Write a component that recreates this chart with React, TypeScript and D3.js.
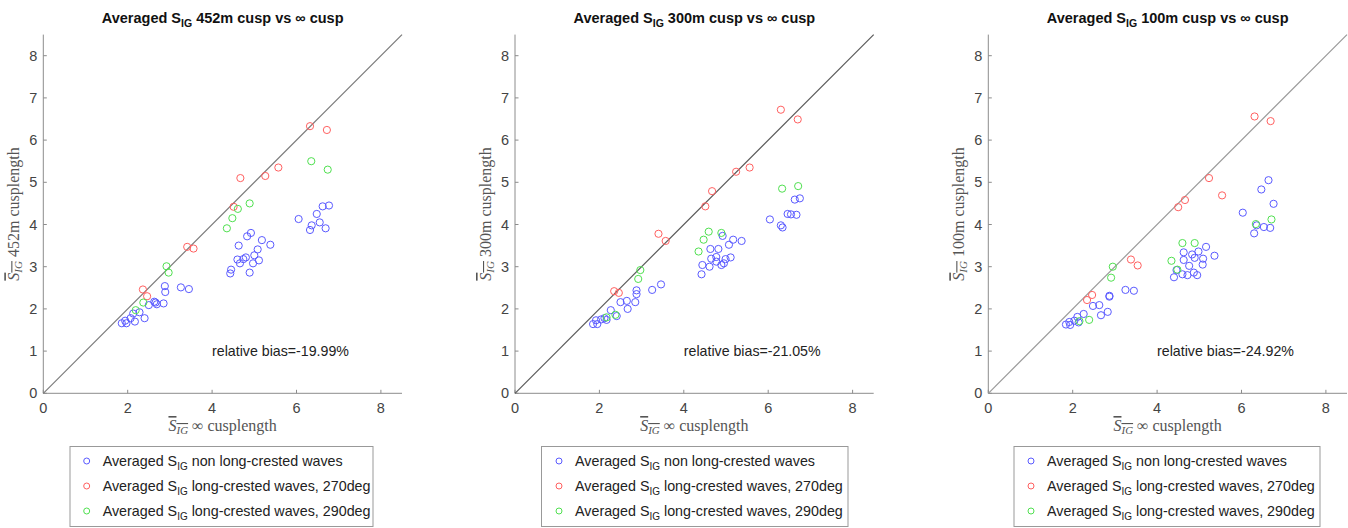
import React from "react";
import * as d3 from "d3";

type Pt = [number, number];

// x: averaged S_IG with infinite cusp length, y: averaged S_IG for a finite cusp length
const blue452: Pt[] = [
  [6.77, 4.45], [6.62, 4.43], [6.48, 4.25], [6.55, 4.05], [6.36, 3.98], [6.32, 3.87], [6.69, 3.91], [6.05, 4.13],
  [4.92, 3.8], [4.83, 3.72], [5.18, 3.63], [5.38, 3.52], [4.63, 3.5], [5.08, 3.41], [5.0, 3.27], [4.8, 3.22],
  [4.74, 3.18], [4.6, 3.17], [4.66, 3.08], [5.11, 3.15], [4.97, 3.08], [4.45, 2.93], [4.43, 2.84], [4.89, 2.86],
  [3.45, 2.47], [3.26, 2.51], [2.88, 2.54], [2.89, 2.4], [2.85, 2.13], [2.66, 2.15], [2.63, 2.17], [2.69, 2.11],
  [2.5, 2.09], [2.4, 1.78], [2.28, 1.92], [2.13, 1.89], [2.07, 1.78], [2.17, 1.7], [1.94, 1.72], [1.97, 1.66],
  [1.86, 1.66],
];
const red452: Pt[] = [
  [6.32, 6.33], [6.72, 6.24], [4.67, 5.1], [5.26, 5.15], [5.57, 5.35], [4.51, 4.42], [3.41, 3.47], [3.56, 3.43],
  [2.36, 2.46], [2.46, 2.3],
];
const green452: Pt[] = [
  [6.35, 5.5], [6.74, 5.3], [4.89, 4.5], [4.61, 4.37], [4.48, 4.15], [4.35, 3.91], [2.92, 3.01], [2.97, 2.86],
  [2.37, 2.15], [2.19, 1.97],
];

const blue300: Pt[] = [
  [6.75, 4.62], [6.63, 4.59], [6.46, 4.25], [6.54, 4.24], [6.67, 4.23], [6.04, 4.12], [6.3, 3.98], [6.34, 3.93],
  [5.37, 3.61], [5.17, 3.64], [5.07, 3.52], [4.92, 3.73], [4.82, 3.42], [4.63, 3.42], [4.77, 3.23], [4.65, 3.19],
  [4.99, 3.18], [5.11, 3.22], [4.95, 3.08], [4.89, 3.04], [4.77, 3.12], [4.61, 3.0], [4.44, 3.04], [4.42, 2.82],
  [3.46, 2.58], [3.25, 2.45], [2.88, 2.44], [2.88, 2.35], [2.85, 2.16], [2.65, 2.19], [2.67, 2.0], [2.5, 2.16],
  [2.41, 1.83], [2.27, 1.97], [2.17, 1.74], [2.12, 1.78], [2.04, 1.75], [1.95, 1.64], [1.92, 1.73], [1.85, 1.64],
];
const red300: Pt[] = [
  [6.3, 6.72], [6.7, 6.49], [5.24, 5.25], [5.56, 5.35], [4.67, 4.79], [4.51, 4.43], [3.4, 3.78], [3.57, 3.61],
  [2.35, 2.42], [2.46, 2.38],
];
const green300: Pt[] = [
  [6.33, 4.85], [6.71, 4.91], [4.89, 3.8], [4.59, 3.83], [4.47, 3.64], [4.35, 3.36], [2.97, 2.92], [2.92, 2.71],
  [2.38, 1.86], [2.17, 1.8],
];

const blue100: Pt[] = [
  [6.64, 5.05], [6.47, 4.83], [6.76, 4.49], [6.03, 4.28], [6.3, 3.79], [6.36, 3.98], [6.53, 3.94], [6.68, 3.92],
  [5.16, 3.47], [5.36, 3.26], [5.09, 3.19], [5.08, 3.05], [4.98, 3.36], [4.83, 3.29], [4.89, 3.21], [4.63, 3.34],
  [4.63, 3.16], [4.76, 3.02], [4.46, 2.92], [4.4, 2.75], [4.6, 2.82], [4.72, 2.8], [4.87, 2.86], [4.95, 2.8],
  [3.45, 2.43], [3.25, 2.45], [2.87, 2.31], [2.87, 2.29], [2.63, 2.09], [2.48, 2.07], [2.67, 1.85], [2.83, 1.93],
  [2.26, 1.88], [2.11, 1.81], [2.14, 1.68], [2.04, 1.72], [1.92, 1.69], [1.84, 1.63], [1.94, 1.62],
];
const red100: Pt[] = [
  [6.31, 6.56], [6.69, 6.45], [5.23, 5.1], [5.54, 4.69], [4.66, 4.58], [4.5, 4.41], [3.38, 3.17], [3.54, 3.03],
  [2.34, 2.21], [2.46, 2.33],
];
const green100: Pt[] = [
  [6.34, 4.01], [6.71, 4.12], [4.89, 3.56], [4.6, 3.56], [4.34, 3.14], [4.48, 2.93], [2.95, 3.0], [2.91, 2.74],
  [2.39, 1.74], [2.16, 1.71],
];

const cuspLengths = ["452m", "300m", "100m"];
const relativeBias = ["-19.99%", "-21.05%", "-24.92%"];
const ticks = [0, 2, 4, 6, 8];
const yTicks = [0, 1, 2, 3, 4, 5, 6, 7, 8];
const legendLabels = [" non long-crested waves", " long-crested waves, 270deg", " long-crested waves, 290deg"];

const seriesColors = ["#5a5aff", "#ff6060", "#50e050"];
const diagColors = ["#7a7a7a", "#5a5a5a", "#9a9a9a"];

const panels = [
  { left: 43.3, legendX: 70, legendW: 303, mk: 86.7, tx: 102.7, series: [blue452, red452, green452] },
  { left: 515, legendX: 541.5, legendW: 306.5, mk: 559, tx: 575, series: [blue300, red300, green300] },
  { left: 988.3, legendX: 1014, legendW: 306, mk: 1031, tx: 1047, series: [blue100, red100, green100] },
];

const SANS = "'Liberation Sans', Arial, sans-serif";
const SERIF = "'Liberation Serif', 'Times New Roman', serif";
const unit = 42.2;
const top = 34.6;
const bottom = 393.3;

function Panel({ idx }: { idx: number }) {
  const p = panels[idx];
  const x = d3.scaleLinear().domain([0, 8.5]).range([p.left, p.left + 8.5 * unit]);
  const y = d3.scaleLinear().domain([0, 8.5]).range([bottom, top]);
  const diag = d3.line<number>().x((v) => x(v)).y((v) => y(v));
  const cx = (x(0) + x(8.5)) / 2;
  const cy = (y(0) + y(8.5)) / 2;
  const axisColor = "#8c8c8c";
  const labelColor = "#444";

  return (
    <g>
      {/* title */}
      <text x={cx} y={23} textAnchor="middle" fontFamily={SANS} fontWeight="bold" fontSize={14.5} fill="#111">
        Averaged S<tspan dy={4} fontSize={10.5}>IG</tspan>
        <tspan dy={-4}>{` ${cuspLengths[idx]} cusp vs \u221E cusp`}</tspan>
      </text>

      {/* axes */}
      <line x1={x(0)} x2={x(0)} y1={y(0)} y2={y(8.5)} stroke={axisColor} strokeWidth={1} />
      <line x1={x(0)} x2={x(8.5)} y1={y(0)} y2={y(0)} stroke={axisColor} strokeWidth={1} />
      {ticks.map((t) => (
        <g key={"xt" + t}>
          <line x1={x(t)} x2={x(t)} y1={y(0)} y2={y(0) - 3.5} stroke={axisColor} />
          <text x={x(t)} y={y(0) + 20} textAnchor="middle" fontFamily={SANS} fontSize={14.5} fill={labelColor}>
            {t}
          </text>
        </g>
      ))}
      {yTicks.map((t) => (
        <g key={"yt" + t}>
          <line x1={x(0)} x2={x(0) + 3.5} y1={y(t)} y2={y(t)} stroke={axisColor} />
          <text x={x(0) - 6} y={y(t) + 5} textAnchor="end" fontFamily={SANS} fontSize={14.5} fill={labelColor}>
            {t}
          </text>
        </g>
      ))}

      {/* axis labels */}
      <text x={cx} y={431} textAnchor="middle" fontFamily={SERIF} fontSize={16} fill="#555">
        <tspan textDecoration="overline" fontStyle="italic">S<tspan dy={3} fontSize={11}>IG</tspan></tspan>
        <tspan dy={-3}>{" \u221E cusplength"}</tspan>
      </text>
      <text
        transform={`translate(${x(0) - 24},${cy}) rotate(-90)`}
        textAnchor="middle"
        fontFamily={SERIF}
        fontSize={16}
        fill="#555"
      >
        <tspan textDecoration="overline" fontStyle="italic">S<tspan dy={3} fontSize={11}>IG</tspan></tspan>
        <tspan dy={-3}>{` ${cuspLengths[idx]} cusplength`}</tspan>
      </text>

      {/* 1:1 line */}
      <path d={diag([0, 8.5]) || ""} stroke={diagColors[idx]} strokeWidth={1.2} fill="none" />

      {/* scatter */}
      {p.series.map((s, si) =>
        s.map((d, i) => (
          <circle
            key={`${si}-${i}`}
            cx={x(d[0])}
            cy={y(d[1])}
            r={3.6}
            fill="none"
            stroke={seriesColors[si]}
            strokeWidth={1}
          />
        ))
      )}

      <text x={x(4.0)} y={y(1.0) + 5} fontFamily={SANS} fontSize={14.2} fill="#222">
        {`relative bias=${relativeBias[idx]}`}
      </text>

      {/* legend */}
      <rect x={p.legendX} y={446.5} width={p.legendW} height={80} fill="#fff" stroke="#999" strokeWidth={1} />
      {legendLabels.map((lab, li) => {
        const ly = 461 + li * 25;
        return (
          <g key={"lg" + li}>
            <circle cx={p.mk} cy={ly} r={3} fill="none" stroke={seriesColors[li]} strokeWidth={1} />
            <text x={p.tx} y={ly + 4.5} fontFamily={SANS} fontSize={14.3} fill="#222">
              Averaged S<tspan dy={4} fontSize={10}>IG</tspan>
              <tspan dy={-4}>{lab}</tspan>
            </text>
          </g>
        );
      })}
    </g>
  );
}

export default function App() {
  return (
    <svg
      width={1348}
      height={528}
      style={{ position: "absolute", left: 0, top: 0, background: "#fff" }}
    >
      <rect width={1348} height={528} fill="#fff" />
      {panels.map((_, i) => (
        <Panel key={i} idx={i} />
      ))}
    </svg>
  );
}
